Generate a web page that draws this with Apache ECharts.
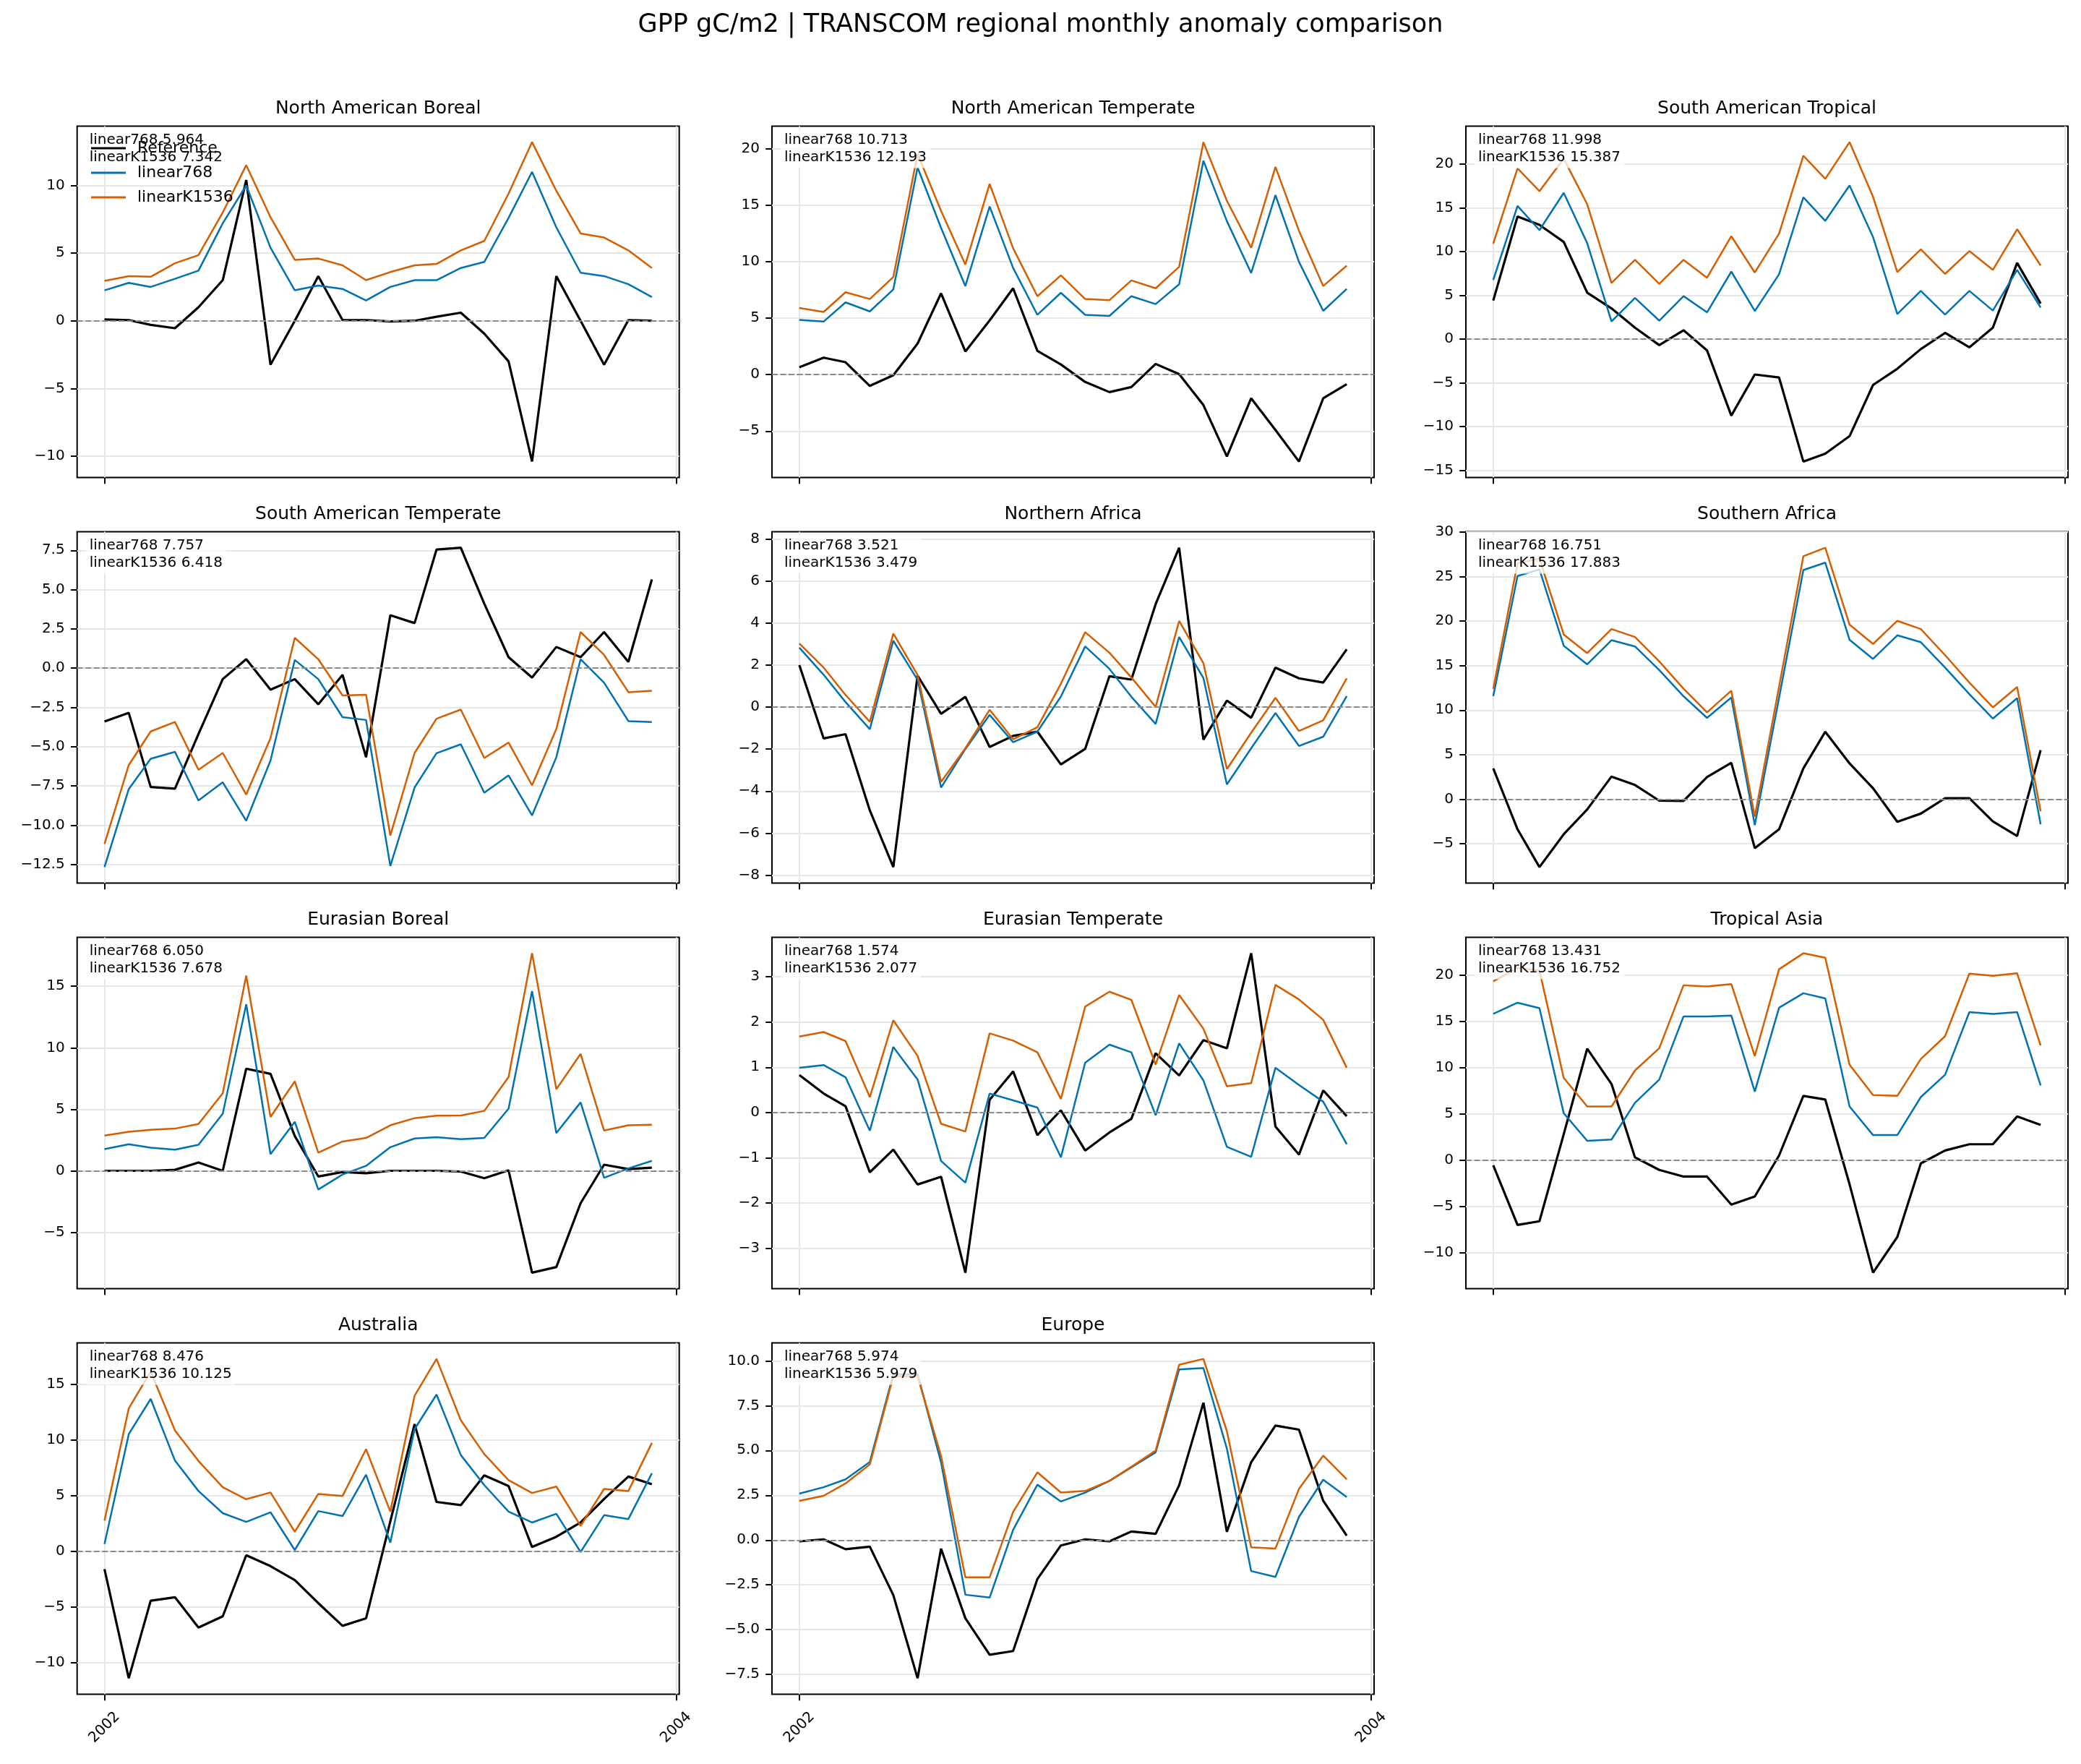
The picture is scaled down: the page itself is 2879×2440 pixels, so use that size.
<!DOCTYPE html>
<html>
<head>
<meta charset="utf-8">
<script src="https://cdn.jsdelivr.net/npm/echarts@6/dist/echarts.min.js"></script>
<style>
html,body{margin:0;padding:0;background:#fff;}
#chart{width:2879px;height:2440px;}
</style>
</head>
<body>
<div id="chart"></div>
<script>
// ---------------- DATA ----------------
const months = ['2002-01','2002-02','2002-03','2002-04','2002-05','2002-06','2002-07','2002-08','2002-09','2002-10','2002-11','2002-12',
                '2003-01','2003-02','2003-03','2003-04','2003-05','2003-06','2003-07','2003-08','2003-09','2003-10','2003-11','2003-12'];
const xTickLabels = ['2002', '2004'];
const regionNames = ['North American Boreal','North American Temperate','South American Tropical','South American Temperate',
  'Northern Africa','Southern Africa','Eurasian Boreal','Eurasian Temperate','Tropical Asia','Australia','Europe'];
const score768   = ['5.964','10.713','11.998','7.757','3.521','16.751','6.050','1.574','13.431','8.476','5.974'];
const scoreK1536 = ['7.342','12.193','15.387','6.418','3.479','17.883','7.678','2.077','16.752','10.125','5.979'];

const nabRef = [0.1,0.05,-0.3,-0.55,1.0,3.0,10.4,-3.25,0.0,3.3,0.05,0.05,-0.05,0.0,0.3,0.6,-0.95,-3.0,-10.4,3.3,0.0,-3.25,0.05,0.0];
const nab768 = [2.25,2.8,2.5,3.1,3.7,7.2,10.0,5.4,2.25,2.6,2.35,1.5,2.5,3.0,3.0,3.9,4.35,7.6,11.0,6.9,3.55,3.3,2.7,1.75];
const nabK1536 = [2.95,3.3,3.25,4.25,4.85,8.0,11.5,7.65,4.5,4.6,4.1,3.0,3.6,4.1,4.2,5.2,5.9,9.4,13.2,9.6,6.45,6.15,5.2,3.9];

const natRef = [0.65,1.5,1.1,-1.0,-0.05,2.75,7.2,2.05,4.8,7.65,2.1,0.9,-0.65,-1.55,-1.1,0.95,0.05,-2.7,-7.25,-2.1,-4.9,-7.7,-2.1,-0.85];
const nat768 = [4.85,4.7,6.4,5.6,7.55,18.35,13.0,7.85,14.9,9.45,5.3,7.25,5.3,5.2,6.95,6.25,8.0,18.95,13.6,9.0,15.9,10.0,5.65,7.6];
const natK1536 = [5.9,5.55,7.3,6.7,8.65,19.55,14.5,9.75,16.9,11.2,6.95,8.8,6.7,6.6,8.35,7.65,9.55,20.6,15.4,11.25,18.4,12.75,7.85,9.65];

const satRef = [4.4,14.0,13.05,11.1,5.3,3.5,1.3,-0.7,1.0,-1.3,-8.75,-4.05,-4.4,-14.0,-13.1,-11.1,-5.25,-3.4,-1.15,0.7,-0.95,1.3,8.7,4.05];
const sat768 = [6.75,15.2,12.45,16.7,10.95,2.0,4.7,2.1,4.9,3.05,7.7,3.2,7.4,16.2,13.5,17.55,11.65,2.85,5.5,2.8,5.5,3.25,7.9,3.6];
const satK1536 = [10.9,19.5,16.9,20.6,15.4,6.4,9.05,6.3,9.05,7.0,11.75,7.6,12.05,20.95,18.3,22.5,16.25,7.65,10.25,7.45,10.05,7.9,12.55,8.4];

const samtRef = [-3.4,-2.85,-7.57,-7.67,-4.2,-0.7,0.57,-1.37,-0.7,-2.3,-0.43,-5.67,3.37,2.87,7.55,7.67,4.1,0.7,-0.6,1.35,0.7,2.3,0.4,5.65];
const samt768 = [-12.67,-7.7,-5.77,-5.33,-8.43,-7.27,-9.72,-5.88,0.52,-0.7,-3.12,-3.3,-12.6,-7.6,-5.42,-4.85,-7.93,-6.83,-9.38,-5.67,0.57,-0.93,-3.37,-3.43];
const samtK1536 = [-11.2,-6.17,-4.03,-3.43,-6.47,-5.4,-8.05,-4.46,1.93,0.57,-1.74,-1.69,-10.65,-5.4,-3.22,-2.64,-5.72,-4.74,-7.46,-3.87,2.3,0.84,-1.53,-1.44];

const nafRef = [2.0,-1.49,-1.29,-4.92,-7.62,1.5,-0.32,0.49,-1.9,-1.37,-1.17,-2.73,-1.99,1.47,1.31,4.9,7.59,-1.55,0.31,-0.51,1.88,1.37,1.17,2.75];
const naf768 = [2.83,1.54,0.24,-1.05,3.16,1.3,-3.83,-2.0,-0.37,-1.67,-1.17,0.5,2.89,1.82,0.49,-0.8,3.34,1.38,-3.68,-1.96,-0.28,-1.85,-1.41,0.52];
const nafK1536 = [3.03,1.88,0.58,-0.70,3.5,1.53,-3.56,-1.96,-0.13,-1.53,-0.96,1.11,3.57,2.59,1.41,0.01,4.1,2.09,-2.95,-1.22,0.44,-1.14,-0.63,1.37];

const safRef = [3.46,-3.38,-7.63,-3.94,-1.15,2.54,1.59,-0.17,-0.2,2.49,4.08,-5.5,-3.38,3.46,7.57,4.02,1.23,-2.54,-1.62,0.11,0.11,-2.49,-4.13,5.5];
const saf768 = [11.56,25.06,25.8,17.23,15.14,17.85,17.15,14.5,11.56,9.13,11.42,-2.9,11.4,25.73,26.56,17.9,15.75,18.4,17.63,14.78,11.79,9.05,11.34,-2.82];
const safK1536 = [12.4,26.5,27.0,18.49,16.4,19.1,18.21,15.47,12.4,9.75,12.18,-1.98,12.65,27.29,28.24,19.6,17.43,20.03,19.1,16.17,13.1,10.31,12.6,-1.37];

const ebRef = [0.0,0.0,0.0,0.08,0.67,0.0,8.3,7.88,2.83,-0.46,-0.1,-0.2,0.0,0.0,0.0,-0.06,-0.6,0.04,-8.28,-7.82,-2.63,0.5,0.14,0.26];
const eb768 = [1.76,2.16,1.88,1.72,2.12,4.64,13.53,1.35,3.98,-1.52,-0.3,0.4,1.92,2.63,2.73,2.57,2.67,5.05,14.6,3.07,5.56,-0.57,0.2,0.81];
const ebK1536 = [2.87,3.17,3.33,3.43,3.8,6.3,15.86,4.38,7.27,1.47,2.38,2.67,3.7,4.28,4.48,4.5,4.87,7.62,17.68,6.63,9.5,3.27,3.7,3.74];

const etRef = [0.83,0.42,0.14,-1.32,-0.82,-1.59,-1.42,-3.54,0.28,0.91,-0.5,0.05,-0.84,-0.44,-0.14,1.31,0.82,1.6,1.42,3.52,-0.31,-0.93,0.49,-0.08];
const et768 = [0.99,1.05,0.78,-0.4,1.45,0.73,-1.07,-1.55,0.42,0.27,0.11,-0.99,1.1,1.5,1.33,-0.06,1.53,0.71,-0.76,-0.98,0.99,0.61,0.24,-0.7];
const etK1536 = [1.68,1.78,1.58,0.34,2.04,1.25,-0.25,-0.42,1.75,1.59,1.33,0.3,2.34,2.67,2.49,1.06,2.6,1.85,0.58,0.65,2.82,2.5,2.05,0.99];

const taRef = [-0.56,-7.0,-6.6,2.8,12.05,8.24,0.3,-1.05,-1.77,-1.77,-4.8,-3.92,0.51,6.95,6.55,-2.6,-12.16,-8.3,-0.35,1.05,1.72,1.72,4.72,3.81];
const ta768 = [15.81,17.02,16.43,5.07,2.09,2.23,6.2,8.7,15.54,15.54,15.62,7.41,16.48,18.04,17.48,5.8,2.71,2.71,6.82,9.23,16.0,15.81,16.0,8.08];
const taK1536 = [19.33,20.78,20.5,8.89,5.8,5.8,9.69,12.1,18.9,18.77,19.03,11.25,20.64,22.36,21.88,10.31,7.03,6.95,10.93,13.4,20.16,19.92,20.19,12.4];

const ausRef = [-1.59,-11.39,-4.42,-4.11,-6.83,-5.83,-0.34,-1.32,-2.57,-4.64,-6.68,-6.01,2.7,11.44,4.45,4.16,6.83,5.88,0.4,1.32,2.6,4.72,6.73,6.04];
const aus768 = [0.66,10.54,13.7,8.16,5.43,3.44,2.65,3.52,0.13,3.63,3.18,6.89,0.79,10.99,14.09,8.66,5.96,3.58,2.6,3.39,-0.05,3.26,2.91,7.02];
const ausK1536 = [2.78,12.85,16.16,10.86,8.13,5.77,4.69,5.3,1.77,5.17,4.98,9.19,3.58,13.99,17.3,11.79,8.74,6.41,5.25,5.83,2.3,5.62,5.43,9.75];

const eurRef = [-0.07,0.04,-0.51,-0.37,-3.07,-7.71,-0.48,-4.36,-6.4,-6.19,-2.17,-0.3,0.04,-0.07,0.48,0.35,3.05,7.66,0.46,4.34,6.39,6.16,2.19,0.25];
const eur768 = [2.59,2.95,3.39,4.36,9.25,9.25,4.33,-3.05,-3.21,0.57,3.09,2.15,2.65,3.3,4.06,4.89,9.52,9.6,5.1,-1.73,-2.06,1.29,3.37,2.4];
const eurK1536 = [2.19,2.47,3.16,4.22,9.14,9.14,4.68,-2.08,-2.08,1.57,3.78,2.65,2.74,3.3,4.09,4.99,9.78,10.11,6.07,-0.4,-0.47,2.85,4.71,3.39];

// y tick values per panel
const nabTicks = [-10,-5,0,5,10];
const natTicks = [-5,0,5,10,15,20];
const satTicks = [-15,-10,-5,0,5,10,15,20];
const samtTicks = [-12.5,-10,-7.5,-5,-2.5,0,2.5,5,7.5];
const nafTicks = [-8,-6,-4,-2,0,2,4,6,8];
const safTicks = [-5,0,5,10,15,20,25,30];
const ebTicks = [-5,0,5,10,15];
const etTicks = [-3,-2,-1,0,1,2,3];
const taTicks = [-10,-5,0,5,10,15,20];
const ausTicks = [-10,-5,0,5,10,15];
const eurTicks = [-7.5,-5,-2.5,0,2.5,5,7.5,10];
const tickDecimals = [0,0,0,1,0,0,0,0,0,0,1];

// ---------------- BUILD ----------------
const refs = [nabRef,natRef,satRef,samtRef,nafRef,safRef,ebRef,etRef,taRef,ausRef,eurRef];
const m768s = [nab768,nat768,sat768,samt768,naf768,saf768,eb768,et768,ta768,aus768,eur768];
const k1536s = [nabK1536,natK1536,satK1536,samtK1536,nafK1536,safK1536,ebK1536,etK1536,taK1536,ausK1536,eurK1536];
const ticksAll = [nabTicks,natTicks,satTicks,samtTicks,nafTicks,safTicks,ebTicks,etTicks,taTicks,ausTicks,eurTicks];

const FONT = 'DejaVu Sans';
const BLUE = '#0072B2', ORANGE = '#D55E00';
const colLeft = [106.7, 1068, 2028];
const rowTop = [174.5, 735.5, 1296.5, 1857.5];
const axW = 833, axH = 486;

const toTs = s => Date.UTC(+s.slice(0,4), +s.slice(5,7) - 1, 1);
const ts = months.map(toTs);
const xTicks = xTickLabels.map(y => Date.UTC(+y, 0, 1));
const xSpan = ts[ts.length-1] - ts[0];
const xMin = ts[0] - 0.05 * xSpan, xMax = ts[ts.length-1] + 0.05 * xSpan;

const fmtNum = (v, d) => { const s = Math.abs(v).toFixed(d); return v < 0 ? '\u2212' + s : s; };

const grids = [], xAxes = [], yAxes = [], series = [], elements = [];

elements.push({type:'text', x: 1439.5, y: 35, z: 10,
  style:{text:'GPP gC/m2 | TRANSCOM regional monthly anomaly comparison', fontSize:35, fontFamily:FONT, fill:'#000', align:'center', verticalAlign:'middle'}});

regionNames.forEach((name, i) => {
  const row = Math.floor(i / 3), col = i % 3;
  const left = colLeft[col], top = rowTop[row];
  const all = refs[i].concat(m768s[i], k1536s[i], [0]);
  const dmin = Math.min(...all), dmax = Math.max(...all);
  const pad = 0.05 * (dmax - dmin);
  const ticks = ticksAll[i];
  const dec = tickDecimals[i];

  grids.push({left:left, top:top, width:axW, height:axH, show:true, borderColor:'#000', borderWidth:2, backgroundColor:'#fff', containLabel:false});
  xAxes.push({type:'value', gridIndex:i, min:xMin, max:xMax,
    axisLine:{show:false, onZero:false}, splitLine:{show:false},
    axisTick:{show:true, inside:false, length:8.75, customValues:xTicks, lineStyle:{color:'#000', width:2}},
    axisLabel:{show: i >= 9, customValues:xTicks, formatter: v => String(new Date(v).getUTCFullYear()),
      rotate:45, align:'center', verticalAlign:'middle', margin:46, fontSize:20, fontFamily:FONT, color:'#000'}});
  yAxes.push({type:'value', gridIndex:i, min:dmin - pad, max:dmax + pad,
    axisLine:{show:false, onZero:false}, splitLine:{show:false},
    axisTick:{show:true, inside:false, length:8.75, customValues:ticks, lineStyle:{color:'#000', width:2}},
    axisLabel:{customValues:ticks, formatter: v => fmtNum(v, dec), margin:17, fontSize:20, fontFamily:FONT, color:'#000'}});

  const mk = arr => arr.map((v, j) => [ts[j], v]);
  series.push({type:'line', name:'Reference', xAxisIndex:i, yAxisIndex:i, data:mk(refs[i]), symbol:'none', z:2,
    lineStyle:{color:'#000', width:3.2}, itemStyle:{color:'#000'}, animation:false,
    markLine:{silent:true, symbol:'none', z:1, animation:false, label:{show:false},
      lineStyle:{color:'#e6e6e6', width:2, type:'solid'},
      data: ticks.map(v => ({yAxis:v})).concat(xTicks.map(v => ({xAxis:v})))}});
  series.push({type:'line', name:'linear768', xAxisIndex:i, yAxisIndex:i, data:mk(m768s[i]), symbol:'none', z:2,
    lineStyle:{color:BLUE, width:2.5}, itemStyle:{color:BLUE}, animation:false});
  series.push({type:'line', name:'linearK1536', xAxisIndex:i, yAxisIndex:i, data:mk(k1536s[i]), symbol:'none', z:2,
    lineStyle:{color:ORANGE, width:2.5}, itemStyle:{color:ORANGE}, animation:false,
    markLine:{silent:true, symbol:'none', z:6, animation:false, label:{show:false},
      lineStyle:{color:'#8a8a8a', width:2, type:[8,3.5]}, data:[{yAxis:0}]}});

  elements.push({type:'text', x: left + axW/2, y: top - 24, z: 10,
    style:{text:name, fontSize:25, fontFamily:FONT, fill:'#000', align:'center', verticalAlign:'middle'}});
  elements.push({type:'text', x: left + 12, y: top + 4, z: 5,
    style:{text:'linear768 ' + score768[i] + '\nlinearK1536 ' + scoreK1536[i], fontSize:20, lineHeight:24, fontFamily:FONT, fill:'#000',
      align:'left', verticalAlign:'top', backgroundColor:'rgba(255,255,255,0.75)', padding:[3,5,3,5]}});
});

const chart = echarts.init(document.getElementById('chart'), null, {renderer:'canvas'});
chart.setOption({
  backgroundColor:'#fff',
  animation:false,
  grid:grids, xAxis:xAxes, yAxis:yAxes, series:series,
  legend:{data:['Reference','linear768','linearK1536'], orient:'vertical', left:126, top:194, padding:0,
    icon:'rect', itemWidth:48, itemHeight:3, itemGap:12, selectedMode:false, z:10,
    textStyle:{fontSize:22, lineHeight:22, fontFamily:FONT, color:'#000', padding:[0,0,0,11]}},
  graphic:{elements:elements}
});
</script>
</body>
</html>
